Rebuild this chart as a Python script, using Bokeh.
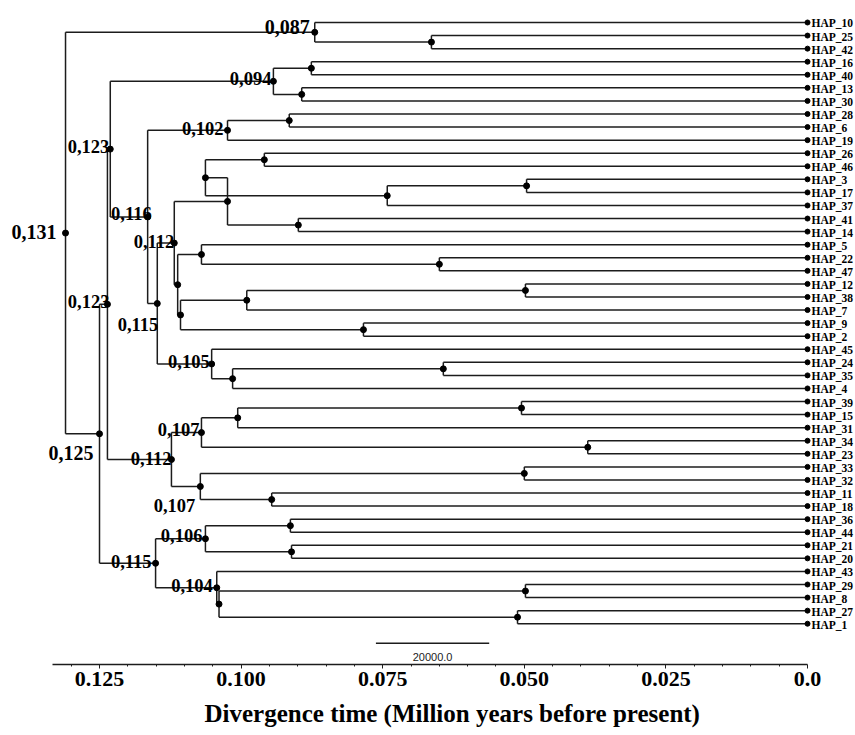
from bokeh.plotting import figure
from bokeh.models import Range1d, FixedTicker, ColumnDataSource, Title
from bokeh.core.properties import value
from bokeh.embed import file_html
from bokeh.resources import INLINE

# ---------------- data ----------------
leaves = ["HAP_10", "HAP_25", "HAP_42", "HAP_16", "HAP_40", "HAP_13", "HAP_30",
          "HAP_28", "HAP_6", "HAP_19", "HAP_26", "HAP_46", "HAP_3", "HAP_17",
          "HAP_37", "HAP_41", "HAP_14", "HAP_5", "HAP_22", "HAP_47", "HAP_12",
          "HAP_38", "HAP_7", "HAP_9", "HAP_2", "HAP_45", "HAP_24", "HAP_35",
          "HAP_4", "HAP_39", "HAP_15", "HAP_31", "HAP_34", "HAP_23", "HAP_33",
          "HAP_32", "HAP_11", "HAP_18", "HAP_36", "HAP_44", "HAP_21", "HAP_20",
          "HAP_43", "HAP_29", "HAP_8", "HAP_27", "HAP_1"]

# internal nodes (children listed before parents); ages in million years
node_ids = ["n25_42", "n087", "n16_40", "n13_30", "n094", "n28_6", "n102",
            "n26_46", "n3_17", "n3_17_37", "nA", "n41_14", "nB", "n22_47", "n5",
            "n12_38", "n12_38_7", "n9_2", "nC", "nD", "n112a", "n24_35",
            "n24_35_4", "n105", "n115a", "n116", "n123a", "n39_15", "n39_15_31",
            "n34_23", "n107a", "n33_32", "n11_18", "n107b", "n112b", "n123b",
            "n36_44", "n21_20", "n106", "n29_8", "n27_1", "nE", "n104", "n115b",
            "n125", "n131"]
node_ages = [0.0664, 0.0870, 0.0876, 0.0893, 0.0943, 0.0915, 0.1024,
             0.0959, 0.0496, 0.0742, 0.1063, 0.0899, 0.1024, 0.0650, 0.1070,
             0.0498, 0.0990, 0.0784, 0.1107, 0.1112, 0.1118, 0.0643,
             0.1015, 0.1052, 0.1148, 0.1165, 0.1231, 0.0505, 0.1006,
             0.0388, 0.1070, 0.0500, 0.0946, 0.1072, 0.1123, 0.1236,
             0.0913, 0.0911, 0.1063, 0.0498, 0.0512, 0.1039, 0.1043, 0.1151,
             0.1250, 0.1310]
node_children = [("HAP_25", "HAP_42"), ("HAP_10", "n25_42"), ("HAP_16", "HAP_40"),
                 ("HAP_13", "HAP_30"), ("n16_40", "n13_30"), ("HAP_28", "HAP_6"),
                 ("n28_6", "HAP_19"), ("HAP_26", "HAP_46"), ("HAP_3", "HAP_17"),
                 ("n3_17", "HAP_37"), ("n26_46", "n3_17_37"), ("HAP_41", "HAP_14"),
                 ("nA", "n41_14"), ("HAP_22", "HAP_47"), ("HAP_5", "n22_47"),
                 ("HAP_12", "HAP_38"), ("n12_38", "HAP_7"), ("HAP_9", "HAP_2"),
                 ("n12_38_7", "n9_2"), ("n5", "nC"), ("nB", "nD"),
                 ("HAP_24", "HAP_35"), ("n24_35", "HAP_4"), ("HAP_45", "n24_35_4"),
                 ("n112a", "n105"), ("n102", "n115a"), ("n094", "n116"),
                 ("HAP_39", "HAP_15"), ("n39_15", "HAP_31"), ("HAP_34", "HAP_23"),
                 ("n39_15_31", "n34_23"), ("HAP_33", "HAP_32"), ("HAP_11", "HAP_18"),
                 ("n33_32", "n11_18"), ("n107a", "n107b"), ("n123a", "n112b"),
                 ("HAP_36", "HAP_44"), ("HAP_21", "HAP_20"), ("n36_44", "n21_20"),
                 ("HAP_29", "HAP_8"), ("HAP_27", "HAP_1"), ("n29_8", "n27_1"),
                 ("HAP_43", "nE"), ("n106", "n104"), ("n123b", "n115b"),
                 ("n087", "n125")]

label_nodes = ["n131", "n087", "n094", "n123a", "n102", "n116", "n112a", "n123b",
               "n115a", "n105", "n107a", "n125", "n112b", "n107b", "n106",
               "n115b", "n104"]
label_texts = ["0,131", "0,087", "0,094", "0,123", "0,102", "0,116", "0,112", "0,123",
               "0,115", "0,105", "0,107", "0,125", "0,112", "0,107", "0,106",
               "0,115", "0,104"]

tick_values = [0.125, 0.100, 0.075, 0.050, 0.025, 0.0]
tick_labels = ["0.125", "0.100", "0.075", "0.050", "0.025", "0.0"]
minor_values = [0.130, 0.120, 0.115, 0.110, 0.105, 0.095, 0.090, 0.085, 0.080,
                0.070, 0.065, 0.060, 0.055, 0.045, 0.040, 0.035, 0.030,
                0.020, 0.015, 0.010, 0.005]
scale_start = 0.0762
scale_length = 0.02
scale_text = "20000.0"
axis_title = "Divergence time (Million years before present)"

# ---------------- styles / layout ----------------
LINE = "#1c1c1c"
SERIF = "Liberation Serif"
# label offsets (px) relative to node: dx, dy (baseline), font size
label_style = {
    "n131": (-9, -1, "20px"), "n087": (-5, -5, "20px"), "n094": (-2, -3, "18.5px"),
    "n123a": (-1, -3, "18.5px"), "n102": (-4, -2, "18.5px"), "n116": (4, -3, "18.5px"),
    "n112a": (0, -2, "18.5px"), "n123b": (2, -3, "18.5px"), "n115a": (1, 21, "18.5px"),
    "n105": (-2, -2, "18.5px"), "n107a": (-2, -3, "18.5px"), "n125": (-6, 19, "20px"),
    "n112b": (0, -1, "18.5px"), "n107b": (-5, 19, "18.5px"), "n106": (-3, -3, "18.5px"),
    "n115b": (-4, -2, "18.5px"), "n104": (-4, -2, "18.5px"),
}
SCALE_Y = 47.5

# ---------------- tree layout ----------------
age = {l: 0.0 for l in leaves}
ypos = {l: float(i) for i, l in enumerate(leaves)}
for nid, a, kids in zip(node_ids, node_ages, node_children):
    age[nid] = a
    ypos[nid] = (ypos[kids[0]] + ypos[kids[-1]]) / 2.0

x0, y0, x1, y1 = [], [], [], []
for nid, kids in zip(node_ids, node_children):
    a = age[nid]
    x0.append(a); y0.append(ypos[kids[0]]); x1.append(a); y1.append(ypos[kids[-1]])
    for c in kids:
        x0.append(a); y0.append(ypos[c]); x1.append(age[c]); y1.append(ypos[c])

p = figure(width=855, height=735, output_backend="svg", toolbar_location=None,
           x_range=Range1d(0.14248, -0.00847), y_range=Range1d(49.12, -1.683),
           y_axis_location=None, min_border_left=0, min_border_right=0,
           min_border_top=0, min_border_bottom=71)
p.xgrid.visible = False
p.ygrid.visible = False
p.outline_line_color = None
p.background_fill_color = "white"
p.border_fill_color = "white"

p.segment(x0=x0, y0=y0, x1=x1, y1=y1, line_color=LINE, line_width=1.5)

# node dots
p.scatter(x=[age[n] for n in node_ids], y=[ypos[n] for n in node_ids],
          size=6, color="black")
# leaf dots
p.scatter(x=[0.0] * len(leaves), y=[ypos[l] for l in leaves], size=5, color="black")

# leaf labels
p.text(x=[0.0] * len(leaves), y=[ypos[l] for l in leaves], text=leaves,
       x_offset=4, y_offset=1, text_align="left", text_baseline="middle",
       text_font=value(SERIF), text_font_style="bold", text_font_size="11.5px",
       text_color="black")

# node age labels
src = ColumnDataSource(dict(
    x=[age[n] for n in label_nodes], y=[ypos[n] for n in label_nodes],
    t=label_texts,
    dx=[label_style[n][0] for n in label_nodes],
    dy=[label_style[n][1] for n in label_nodes],
    fs=[label_style[n][2] for n in label_nodes]))
p.text(x="x", y="y", text="t", x_offset="dx", y_offset="dy", source=src,
       text_align="right", text_baseline="alphabetic", text_font=value(SERIF),
       text_font_style="bold", text_font_size="fs", text_color="black")

# scale bar
p.segment(x0=[scale_start], y0=[SCALE_Y], x1=[scale_start - scale_length], y1=[SCALE_Y],
          line_color=LINE, line_width=1.5)
p.text(x=[scale_start - scale_length / 2], y=[SCALE_Y], text=[scale_text],
       y_offset=14, text_align="center", text_baseline="middle",
       text_font=value("Liberation Sans"), text_font_size="11px", text_color="#222222")

# axis
ax = p.xaxis[0]
ax.ticker = FixedTicker(ticks=tick_values, minor_ticks=minor_values)
ax.major_label_overrides = {v: s for v, s in zip(tick_values, tick_labels)}
ax.bounds = (0.0, 0.1333)
ax.axis_line_color = LINE
ax.axis_line_width = 1.3
ax.major_tick_line_color = LINE
ax.minor_tick_line_color = LINE
ax.major_tick_out = 4
ax.major_tick_in = 0
ax.minor_tick_out = 2
ax.minor_tick_in = 0
ax.major_label_standoff = 3
ax.major_label_text_font = SERIF
ax.major_label_text_font_style = "bold"
ax.major_label_text_font_size = "22px"
ax.major_label_text_color = "black"

# axis title as a bottom title (shifted right as in the reference)
p.add_layout(Title(text=axis_title, align="left", offset=204, standoff=18,
                   text_font=SERIF, text_font_style="bold", text_font_size="25px",
                   text_color="black"), "below")

open("out.html", "w").write(file_html(p, INLINE))
